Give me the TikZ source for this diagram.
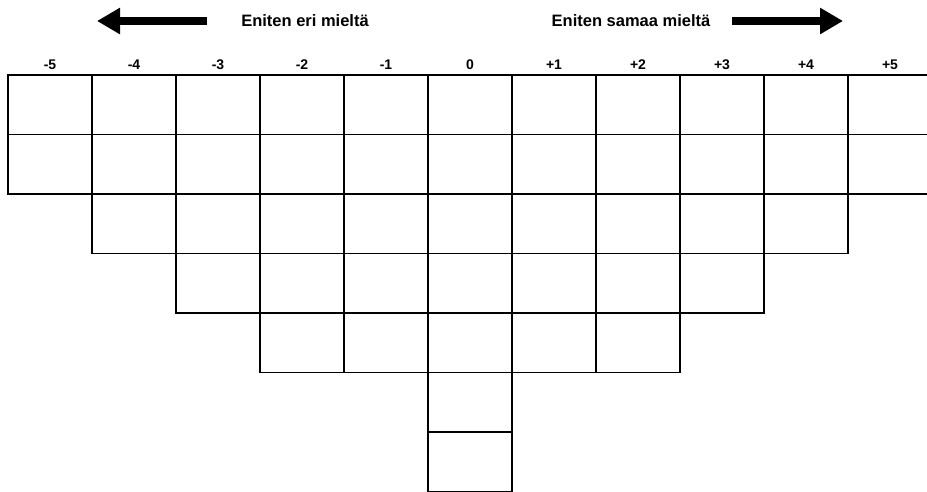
\documentclass[tikz,border=0pt]{standalone}
\usepackage{fontspec}
\setmainfont{Liberation Sans}
\usetikzlibrary{arrows.meta}
\begin{document}
\begin{tikzpicture}[x=1pt,y=-1pt,
  cellbox/.style={draw=black,line width=1.8pt},
  heading/.style={font=\fontsize{16.5}{18}\selectfont\bfseries,inner sep=0pt},
  colnum/.style={font=\fontsize{14}{16}\selectfont\bfseries,inner sep=0pt,anchor=base},
  bigarrow/.style={line width=8pt,-{Triangle[length=23pt,width=25pt]}}]
\useasboundingbox (0,0) rectangle (927,491);
\clip (0,0) rectangle (927,491);
% headings and arrows
\node[heading] (left) at (305,21) {Eniten eri mieltä};
\node[heading] (right) at (631,21) {Eniten samaa mieltä};
\coordinate (la) at (207,21);
\coordinate (lb) at (97,21);
\coordinate (ra) at (732,21);
\coordinate (rb) at (843,21);
\draw[bigarrow] (la) -- (lb);
\draw[bigarrow] (ra) -- (rb);
% column labels
\foreach \lab [count=\i from 0] in {-5,-4,-3,-2,-1,0,+1,+2,+3,+4,+5}
  \node[colnum] (lab\i) at ({50+84*\i},69.5) {\lab};
% rows: row index / first column / last column
\foreach \r/\a/\b in {0/0/10,1/0/10,2/1/9,3/2/8,4/3/7,5/5/5,6/5/5}
  \foreach \c in {\a,...,\b}
    \draw[cellbox] ({8+84*\c},{75+59.5*\r}) rectangle ({92+84*\c},{134.5+59.5*\r});
\end{tikzpicture}
\end{document}
